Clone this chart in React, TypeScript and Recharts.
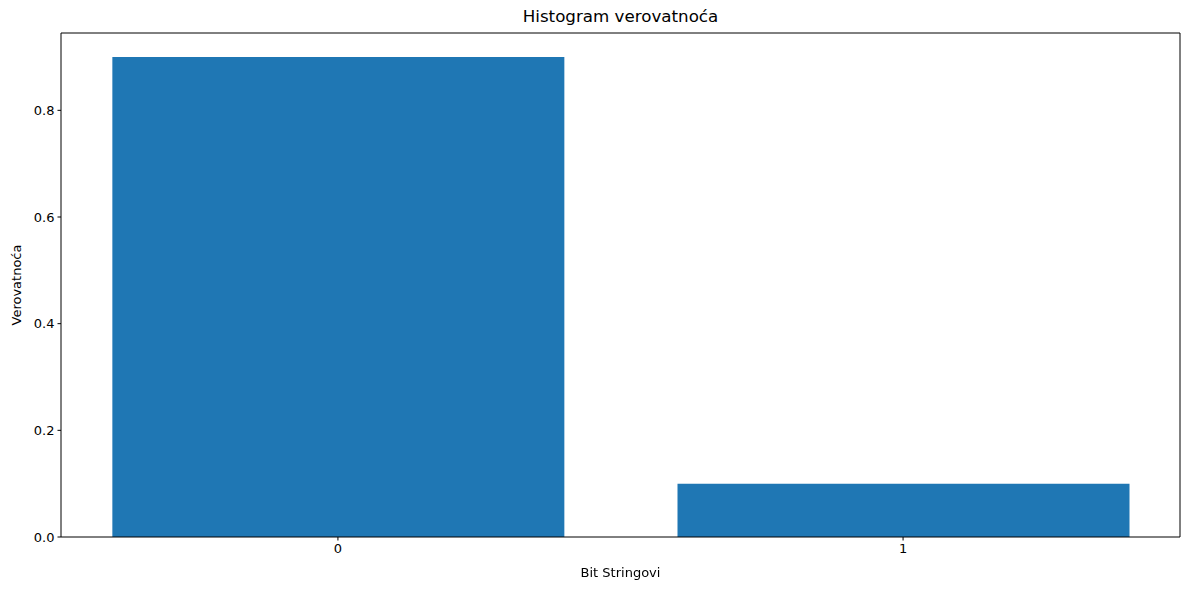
import { BarChart, Bar, XAxis, YAxis, ReferenceLine } from 'recharts'

const bitStrings = [0, 1]
const probabilities = [0.9, 0.1]
const yTicks = [0, 0.2, 0.4, 0.6, 0.8]
const xTicks = [0, 1]

const data = bitStrings.map((b, i) => ({ bit: b, p: probabilities[i] }))

const FONT = '"DejaVu Sans", sans-serif'

export default function App() {
  return (
    <div style={{ position: 'fixed', top: 0, left: 0, width: 1189, height: 590, background: '#fff', fontFamily: FONT }}>
      <div style={{ position: 'absolute', left: 0, width: 1241, top: 6, textAlign: 'center', fontSize: 16.7, color: '#000' }}>
        Histogram verovatnoća
      </div>
      <BarChart width={1189} height={590} data={data} margin={{ top: 33, right: 9, bottom: 13, left: 0 }}>
        <XAxis
          dataKey="bit"
          type="number"
          domain={[-0.49, 1.49]}
          ticks={xTicks}
          allowDataOverflow
          height={40}
          stroke="#000"
          tickSize={3.5}
          tickMargin={3}
          tick={{ fill: '#000', fontSize: 13, fontFamily: FONT }}
        />
        <YAxis
          type="number"
          domain={[0, 0.945]}
          ticks={yTicks}
          allowDataOverflow
          width={61}
          stroke="#000"
          tickSize={3.5}
          tickMargin={3}
          tickFormatter={(v) => Number(v).toFixed(1)}
          tick={{ fill: '#000', fontSize: 13, fontFamily: FONT }}
        />
        <ReferenceLine y={0.945} stroke="#000" />
        <ReferenceLine x={1.49} stroke="#000" />
        <Bar dataKey="p" fill="#1f77b4" barSize={452} isAnimationActive={false} />
      </BarChart>
      <div style={{ position: 'absolute', left: 0, width: 1241, top: 565, textAlign: 'center', fontSize: 13, color: '#000' }}>
        Bit Stringovi
      </div>
      <div style={{ position: 'absolute', left: 16, top: 285, transform: 'translate(-50%, -50%) rotate(-90deg)', fontSize: 13, color: '#000', whiteSpace: 'nowrap' }}>
        Verovatnoća
      </div>
    </div>
  )
}
